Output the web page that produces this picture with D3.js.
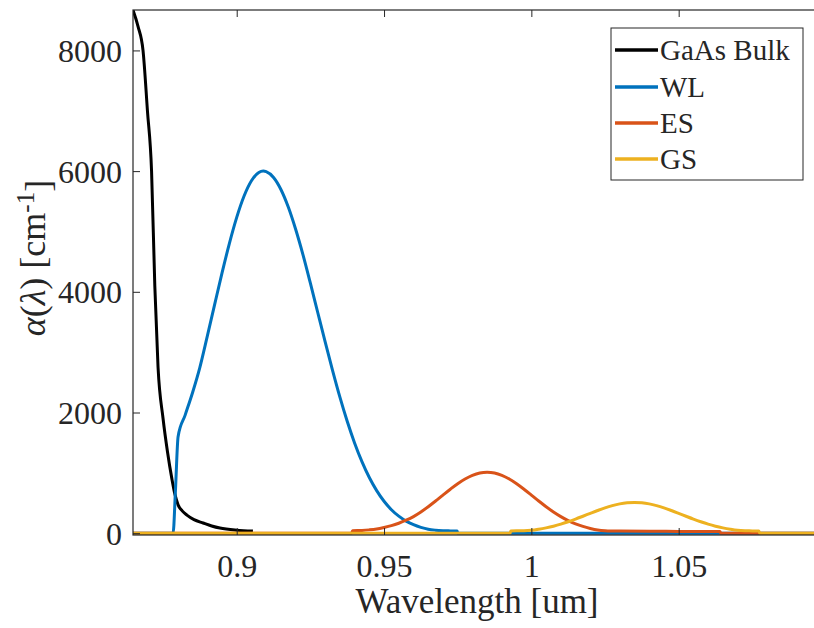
<!DOCTYPE html>
<html><head><meta charset="utf-8">
<script src="https://cdn.jsdelivr.net/npm/d3@7"></script>
<style>
html,body{margin:0;padding:0;background:#fff;}
svg{display:block;}
text{font-family:"Liberation Serif","Times New Roman",serif;fill:#262626;}
</style></head>
<body><svg id="chart" width="814" height="628"></svg>
<script>
// ---------- data ----------
const seriesNames = ["GaAs Bulk", "WL", "ES", "GS"];
const seriesColors = ["#000000", "#0072BD", "#D95319", "#EDB120"];

const bulkLambda = [0.8648, 0.8665, 0.8682, 0.8697, 0.8711, 0.8722, 0.8733, 0.8750, 0.8765, 0.8780, 0.8790, 0.8801, 0.8815, 0.8831, 0.8855, 0.8886, 0.8915, 0.8943, 0.9000, 0.9055];
const bulkValues = [8670, 8400, 8000, 7000, 6000, 4100, 2750, 1900, 1350, 900, 650, 470, 370, 300, 225, 169, 120, 85, 50, 35];

const wlLambda = [0.8648, 0.8784, 0.8792, 0.8801, 0.8825, 0.8850, 0.8875, 0.8900, 0.8925, 0.8950, 0.8975, 0.9000, 0.9025, 0.9050, 0.9075, 0.9090, 0.9100, 0.9125, 0.9150, 0.9175, 0.9200, 0.9225, 0.9250, 0.9275, 0.9300, 0.9325, 0.9350, 0.9375, 0.9400, 0.9425, 0.9450, 0.9475, 0.9500, 0.9525, 0.9550, 0.9575, 0.9600, 0.9625, 0.9650, 0.9675, 0.9700, 0.9725, 0.9748, 0.9750, 1.1000];
const wlValues = [0, 0, 700, 1600, 1957, 2328, 2748, 3260, 3787, 4309, 4799, 5233, 5587, 5840, 5977, 6000, 5991, 5895, 5696, 5405, 5037, 4613, 4144, 3657, 3173, 2702, 2258, 1854, 1496, 1185, 922, 705, 529, 389, 282, 200, 140, 96, 65, 50, 42, 38, 35, 0, 0];

const esLambda = [0.8648, 0.9390, 0.9393, 0.9425, 0.9450, 0.9475, 0.9500, 0.9525, 0.9550, 0.9575, 0.9600, 0.9625, 0.9650, 0.9675, 0.9700, 0.9725, 0.9750, 0.9775, 0.9800, 0.9825, 0.9850, 0.9875, 0.9900, 0.9925, 0.9950, 0.9975, 1.0000, 1.0025, 1.0050, 1.0075, 1.0100, 1.0125, 1.0150, 1.0175, 1.0200, 1.0225, 1.0250, 1.0300, 1.0400, 1.0500, 1.0640, 1.0643, 1.1000];
const esValues = [0, 0, 40, 45, 55, 70, 95, 125, 165, 215, 275, 351, 439, 533, 632, 729, 820, 898, 958, 997, 1010, 997, 958, 898, 820, 729, 632, 533, 439, 351, 275, 209, 155, 112, 79, 54, 42, 35, 32, 30, 30, 0, 0];

const gsLambda = [0.8648, 0.9928, 0.9930, 0.9950, 0.9975, 1.0000, 1.0025, 1.0050, 1.0075, 1.0100, 1.0125, 1.0150, 1.0175, 1.0200, 1.0225, 1.0250, 1.0275, 1.0300, 1.0325, 1.0350, 1.0375, 1.0400, 1.0425, 1.0450, 1.0475, 1.0500, 1.0525, 1.0550, 1.0575, 1.0600, 1.0625, 1.0650, 1.0675, 1.0700, 1.0725, 1.0750, 1.0772, 1.0775, 1.1000];
const gsValues = [0, 0, 35, 40, 40, 47, 65, 88, 116, 150, 190, 234, 281, 329, 376, 420, 457, 486, 504, 510, 504, 486, 457, 420, 376, 329, 281, 234, 190, 150, 116, 88, 65, 47, 40, 38, 35, 0, 0];

const xTicks = [0.9, 0.95, 1, 1.05];
const xTickLabels = ["0.9", "0.95", "1", "1.05"];
const yTicks = [0, 2000, 4000, 6000, 8000];
const yTickLabels = ["0", "2000", "4000", "6000", "8000"];

// ---------- layout ----------
const svg = d3.select("#chart");
const L = 133, R = 826, T = 10, B = 535;
const x = d3.scaleLinear().domain([0.8648, 1.1]).range([L, R]);
const y = d3.scaleLinear().domain([-30, 8670]).range([B, T]);

const series = [
  {lam: bulkLambda, val: bulkValues},
  {lam: wlLambda, val: wlValues},
  {lam: esLambda, val: esValues},
  {lam: gsLambda, val: gsValues}
];

svg.append("defs").append("clipPath").attr("id", "clip")
  .append("rect").attr("x", L).attr("y", T).attr("width", R - L).attr("height", B - T);

const line = d3.line().x(d => x(d[0])).y(d => y(d[1])).curve(d3.curveMonotoneX);

const g = svg.append("g").attr("clip-path", "url(#clip)");
series.forEach((s, i) => {
  const pts = s.lam.map((l, j) => [l, s.val[j]]);
  g.append("path").datum(pts)
    .attr("d", line)
    .attr("fill", "none")
    .attr("stroke", seriesColors[i])
    .attr("stroke-width", 3)
    .attr("stroke-linejoin", "round");
});

// axes (ticks pointing inward)
const axisColor = "#262626";
const xb = svg.append("g").attr("transform", `translate(0,${B})`)
  .call(d3.axisBottom(x).tickValues(xTicks).tickSize(-7).tickFormat((d, i) => xTickLabels[i]).tickPadding(0));
const xt = svg.append("g").attr("transform", `translate(0,${T})`)
  .call(d3.axisTop(x).tickValues(xTicks).tickSize(-7).tickFormat(""));
const yl = svg.append("g").attr("transform", `translate(${L},0)`)
  .call(d3.axisLeft(y).tickValues(yTicks).tickSize(-7).tickFormat((d, i) => yTickLabels[i]).tickPadding(11));

[xb, xt, yl].forEach(a => {
  a.select(".domain").remove();
  a.selectAll(".tick line").attr("stroke", axisColor).attr("stroke-width", 1);
  a.selectAll(".tick text").style("font-family", '"Liberation Serif", serif').style("font-size", "32px").attr("fill", axisColor);
});
xb.selectAll(".tick text").attr("y", 42).attr("dy", "0");
yl.selectAll(".tick text").attr("dy", "0.34em");

// frame
svg.append("rect").attr("x", L).attr("y", T).attr("width", R - L).attr("height", B - T)
  .attr("fill", "none").attr("stroke", axisColor).attr("stroke-width", 1.2);

// axis labels
svg.append("text").attr("x", 477).attr("y", 613).attr("text-anchor", "middle")
  .style("font-size", "35px").text("Wavelength [um]");

const yl2 = svg.append("text").attr("transform", "translate(45,258) rotate(-90)")
  .attr("text-anchor", "middle").style("font-size", "36px");
yl2.append("tspan").style("font-style", "italic").text("α");
yl2.append("tspan").text("(");
yl2.append("tspan").style("font-style", "italic").text("λ");
yl2.append("tspan").text(") [cm");
yl2.append("tspan").attr("dy", "-0.45em").style("font-size", "25px").text("-1");
yl2.append("tspan").attr("dy", "0.45em").text("]");

// legend
const lg = svg.append("g");
lg.append("rect").attr("x", 611).attr("y", 28).attr("width", 192).attr("height", 152)
  .attr("fill", "#fff").attr("stroke", axisColor).attr("stroke-width", 1);
const rowY = [50, 87, 123, 159];
seriesNames.forEach((n, i) => {
  lg.append("line").attr("x1", 615).attr("x2", 658).attr("y1", rowY[i]).attr("y2", rowY[i])
    .attr("stroke", seriesColors[i]).attr("stroke-width", 3.5);
  lg.append("text").attr("x", 660).attr("y", rowY[i]).attr("dy", "0.35em")
    .style("font-size", "29px").attr("fill", "#000").text(n);
});
</script></body></html>
